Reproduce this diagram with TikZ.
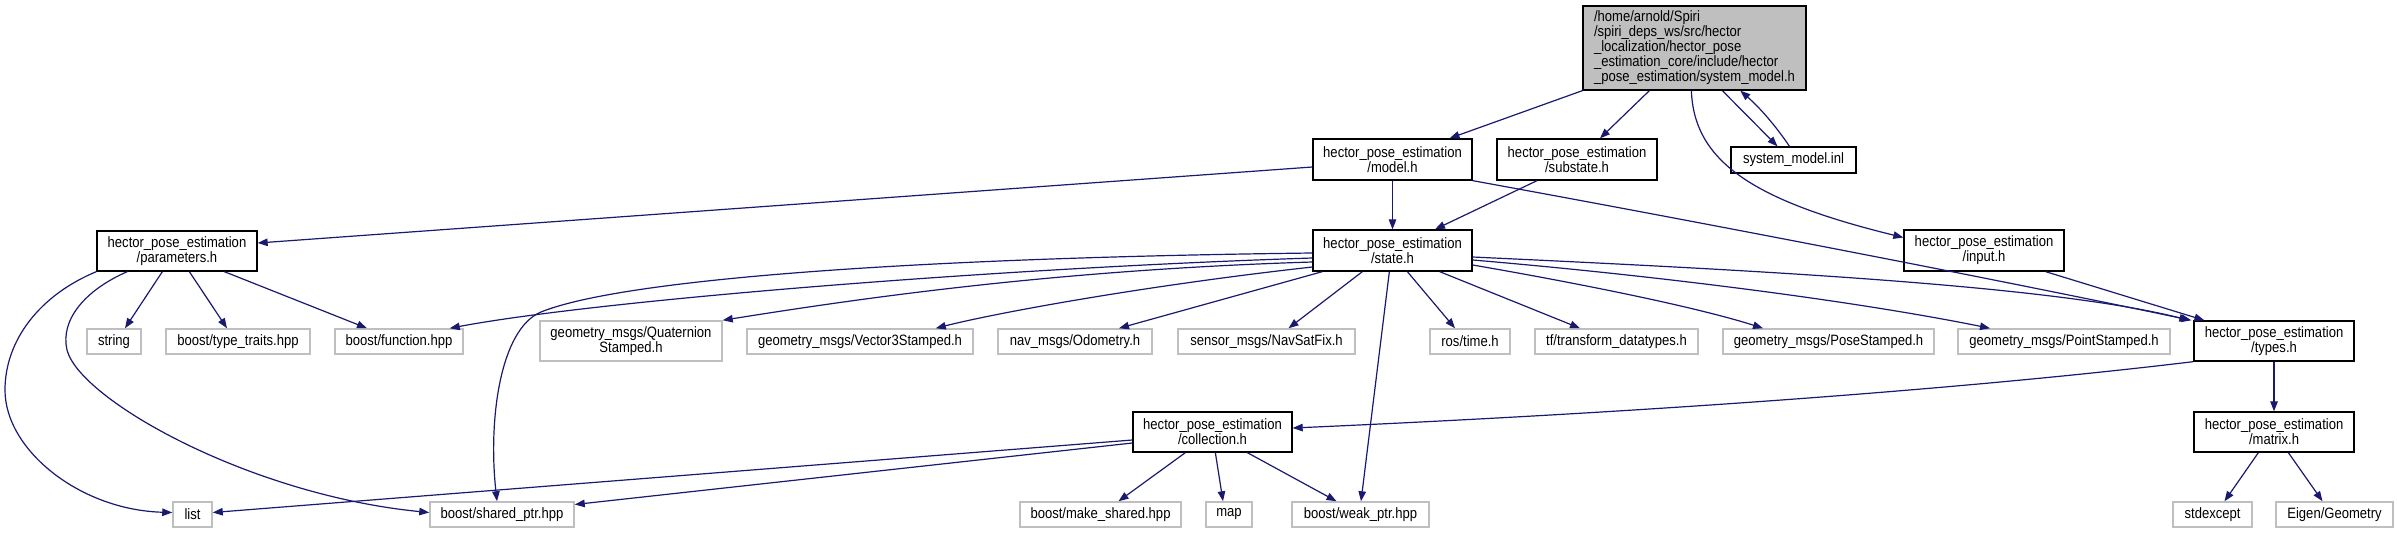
\documentclass[tikz,border=0pt]{standalone}
\usepackage{fontspec}
\setmainfont{Liberation Sans}[FakeStretch=0.87]
\usetikzlibrary{arrows.meta,calc}
\definecolor{edgecol}{HTML}{191970}
\definecolor{grayb}{HTML}{BFBFBF}
\begin{document}
\begin{tikzpicture}[x=1pt,y=-1pt,
  every node/.style={font=\fontsize{15}{15}\selectfont, inner sep=0pt, align=center},
  doc/.style={draw=black, line width=1.3pt, fill=white},
  ext/.style={draw=grayb, line width=1.5pt, fill=white},
  sz/.style 2 args={minimum width=#1, minimum height=#2},
  conn/.style={draw=edgecol, line width=1.2pt, -{Triangle[length=10pt,width=7.5pt]}}]
\fill[white] (0,0) rectangle (2397,533);
\useasboundingbox (0,0) rectangle (2397,533);
% nodes
\node[doc, fill=grayb, sz={223pt}{84pt}, text width=201pt, align=left] (main) at (1694.5,48) {/home/arnold/Spiri\\/spiri\_deps\_ws/src/hector\\\_localization/hector\_pose\\\_estimation\_core/include/hector\\\_pose\_estimation/system\_model.h};
\node[doc, sz={159pt}{41pt}] (model) at (1392.5,159.5) {hector\_pose\_estimation\\/model.h};
\node[doc, sz={160pt}{41pt}] (substate) at (1577,159.5) {hector\_pose\_estimation\\/substate.h};
\node[doc, sz={125pt}{26pt}] (inl) at (1793.5,160) {system\_model.inl};
\node[doc, sz={160pt}{40pt}] (parameters) at (177,251) {hector\_pose\_estimation\\/parameters.h};
\node[doc, sz={159pt}{41pt}] (state) at (1392.5,250.5) {hector\_pose\_estimation\\/state.h};
\node[doc, sz={160pt}{41pt}] (input) at (1984,250.5) {hector\_pose\_estimation\\/input.h};
\node[ext, sz={54pt}{25pt}] (string) at (114,341.5) {string};
\node[ext, sz={144pt}{25pt}] (typetraits) at (238,341.5) {boost/type\_traits.hpp};
\node[ext, sz={128pt}{25pt}] (function) at (399,341.5) {boost/function.hpp};
\node[ext, sz={182pt}{40pt}] (quat) at (631,341) {geometry\_msgs/Quaternion\\Stamped.h};
\node[ext, sz={226pt}{25pt}] (vec3) at (860,341.5) {geometry\_msgs/Vector3Stamped.h};
\node[ext, sz={154pt}{25pt}] (odom) at (1075,341.5) {nav\_msgs/Odometry.h};
\node[ext, sz={177pt}{25pt}] (navsat) at (1266.5,341.5) {sensor\_msgs/NavSatFix.h};
\node[ext, sz={80pt}{25pt}] (rostime) at (1470,341.5) {ros/time.h};
\node[ext, sz={163pt}{25pt}] (tf) at (1616.5,341.5) {tf/transform\_datatypes.h};
\node[ext, sz={211pt}{25pt}] (pose) at (1828.5,341.5) {geometry\_msgs/PoseStamped.h};
\node[ext, sz={212pt}{25pt}] (point) at (2064,341.5) {geometry\_msgs/PointStamped.h};
\node[doc, sz={160pt}{40pt}] (types) at (2274,341) {hector\_pose\_estimation\\/types.h};
\node[doc, sz={159pt}{40pt}] (collection) at (1212.5,432) {hector\_pose\_estimation\\/collection.h};
\node[doc, sz={160pt}{40pt}] (matrix) at (2274,432) {hector\_pose\_estimation\\/matrix.h};
\node[ext, sz={39pt}{25pt}] (list) at (192.5,514.5) {list};
\node[ext, sz={144pt}{25pt}] (shared) at (502,514.5) {boost/shared\_ptr.hpp};
\node[ext, sz={161pt}{25pt}] (makeshared) at (1100.5,514.5) {boost/make\_shared.hpp};
\node[ext, sz={46pt}{25pt}] (map) at (1229,514.5) {map};
\node[ext, sz={137pt}{25pt}] (weak) at (1360.5,514.5) {boost/weak\_ptr.hpp};
\node[ext, sz={79pt}{25pt}] (stdexcept) at (2212.5,514.5) {stdexcept};
\node[ext, sz={117pt}{25pt}] (eigen) at (2334.5,514.5) {Eigen/Geometry};
% edges from main
\draw[conn] (main.south west) -- ($(model.north)+(57,0)$);
\draw[conn] ($(main.south west)+(67,0)$) -- ($(substate.north)+(23,0)$);
\draw[conn] ($(main.south west)+(140,0)$) -- ($(inl.north)+(-16,0)$);
\draw[conn] ($(inl.north)+(-4,0)$) .. controls (1775,125) and (1760,108) .. ($(main.south west)+(158,0)$);
\draw[conn] ($(main.south west)+(109,0)$) .. controls (1694,160) and (1750,200) .. ($(input.west)+(0,-13)$);
% model
\draw[conn] ($(model.west)+(0,7.5)$) -- ($(parameters.east)+(0,-8)$);
\draw[conn] (model.south) -- (state.north);
\draw[conn] (model.south east) .. controls (1700,222) and (2000,280) .. ($(types.north west)+(-2,0)$);
% substate
\draw[conn] ($(substate.south)+(-40,0)$) -- ($(state.north)+(42.5,0)$);
% input
\draw[conn] ($(input.south east)+(-19,0)$) -- ($(types.north west)+(11,0)$);
% state
\draw[conn] ($(state.west)+(0,7.5)$) .. controls (1000,268) and (600,300) .. ($(function.north east)+(-14,0)$);
\draw[conn] ($(state.west)+(0,2.5)$) .. controls (900,258) and (620,280) .. (541,312) .. controls (500,329) and (488,420) .. ($(shared.north)+(-5,0)$);
\draw[conn] ($(state.west)+(0,11.5)$) .. controls (1050,270) and (850,300) .. (quat.north east);
\draw[conn] ($(state.west)+(0,16.5)$) .. controls (1150,285) and (1000,312) .. ($(vec3.north east)+(-38,0)$);
\draw[conn] ($(state.south west)+(10,0)$) -- ($(odom.north)+(44,0)$);
\draw[conn] ($(state.south west)+(50,0)$) -- ($(navsat.north)+(22,0)$);
\draw[conn] ($(state.south west)+(77,0)$) -- ($(weak.north)+(0.5,0)$);
\draw[conn] ($(state.south west)+(95,0)$) -- ($(rostime.north)+(-15,0)$);
\draw[conn] ($(state.south east)+(-33,0)$) -- ($(tf.north)+(-36.5,0)$);
\draw[conn] ($(state.east)+(0,14.5)$) .. controls (1560,280) and (1690,305) .. ($(pose.north)+(-65.5,0)$);
\draw[conn] ($(state.east)+(0,9.5)$) .. controls (1650,275) and (1850,300) .. ($(point.north)+(-74,0)$);
\draw[conn] ($(state.east)+(0,6.5)$) .. controls (1750,270) and (2050,285) .. ($(types.north west)+(-4,0)$);
% parameters
\draw[conn] ($(parameters.south west)+(66,0)$) -- ($(string.north)+(11,0)$);
\draw[conn] ($(parameters.south west)+(93,0)$) -- ($(typetraits.north)+(-11,0)$);
\draw[conn] ($(parameters.south west)+(128,0)$) -- ($(function.north)+(-32,0)$);
\draw[conn] (parameters.south west) .. controls (40,295) and (5,340) .. (5,390) .. controls (5,450) and (80,510) .. ($(list.west)+(0,-2)$);
\draw[conn] ($(parameters.south west)+(31,0)$) .. controls (85,290) and (60,320) .. (67,350) .. controls (80,400) and (250,495) .. ($(shared.west)+(0,-2)$);
% collection
\draw[conn] ($(collection.west)+(0,8)$) -- ($(list.east)+(0,-2)$);
\draw[conn] ($(collection.west)+(0,11)$) -- ($(shared.east)+(0,-10)$);
\draw[conn] ($(collection.south west)+(53,0)$) -- ($(makeshared.north)+(18,0)$);
\draw[conn] ($(collection.south west)+(83,0)$) -- ($(map.north)+(-6,0)$);
\draw[conn] ($(collection.south west)+(115,0)$) -- ($(weak.north)+(-24,0)$);
% types
\draw[conn] (types.south west) .. controls (2000,385) and (1700,410) .. ($(collection.east)+(0,-4)$);
\draw[conn] (types.south) -- (matrix.north);
% matrix
\draw[conn] ($(matrix.south west)+(65,0)$) -- ($(stdexcept.north)+(12,0)$);
\draw[conn] ($(matrix.south west)+(95,0)$) -- ($(eigen.north)+(-12,0)$);
\end{tikzpicture}
\end{document}
